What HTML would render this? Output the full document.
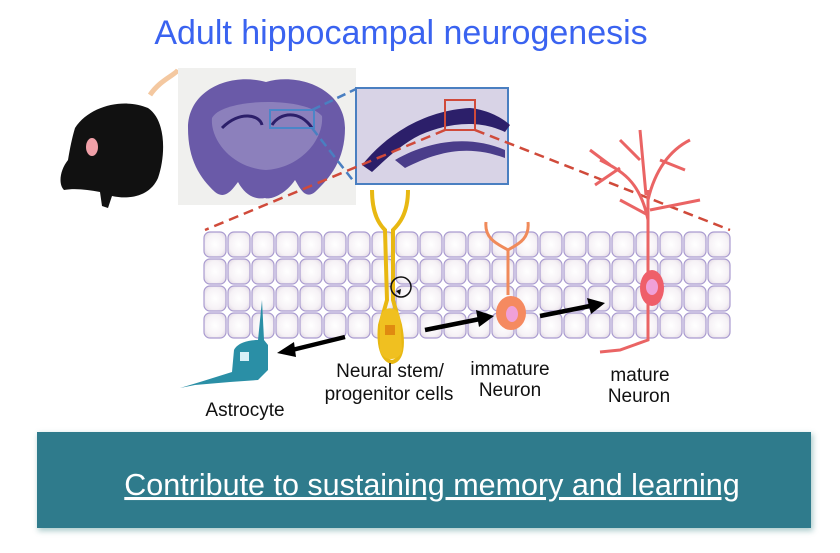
<!DOCTYPE html>
<html><head><meta charset="utf-8"><style>
body{margin:0;width:840px;height:548px;background:#fff;overflow:hidden;font-family:"Liberation Sans",sans-serif}
</style></head><body>
<svg width="840" height="548" viewBox="0 0 840 548" xmlns="http://www.w3.org/2000/svg">
<defs>
<radialGradient id="cg" cx="50%" cy="50%" r="60%"><stop offset="0" stop-color="#fff"/><stop offset="0.7" stop-color="#f6f2f6"/><stop offset="1" stop-color="#e4dbe6"/></radialGradient>
<pattern id="cells" x="203" y="231" width="24" height="27" patternUnits="userSpaceOnUse">
<rect x="1" y="1" width="22" height="25" rx="6" fill="url(#cg)" stroke="#a99bd0" stroke-width="1.2"/>
</pattern>
<filter id="sh" x="-5%" y="-10%" width="110%" height="130%"><feGaussianBlur stdDeviation="3"/></filter>
</defs>
<text x="401" y="44" text-anchor="middle" font-size="34" fill="#3a63f0">Adult hippocampal neurogenesis</text>
<!-- mouse -->
<path d="M150 95 C160 80 175 75 178 70" stroke="#f4c8a0" stroke-width="5" fill="none"/>
<path d="M75 128 C90 105 125 98 148 108 C166 120 166 155 158 178 C150 196 130 200 112 196 L108 208 L102 206 L100 192 C88 190 76 188 64 190 C58 184 60 170 68 160 C70 148 72 138 75 128Z" fill="#111"/>
<ellipse cx="92" cy="147" rx="6" ry="9" fill="#f0a0a8"/>
<!-- brain -->
<rect x="178" y="68" width="178" height="137" fill="#f0f0ee"/>
<path d="M188 128 C188 90 230 72 266 82 C300 72 345 90 345 128 C345 160 330 178 315 192 C305 200 300 188 295 180 C285 195 270 200 265 198 C255 200 245 195 238 182 C232 190 225 200 215 192 C200 178 188 160 188 128Z" fill="#6a5aa8"/>
<path d="M212 118 C222 98 305 96 322 116 C324 140 300 168 266 170 C232 168 210 140 212 118Z" fill="#8c80bc"/>
<path d="M222 128 C240 110 260 115 262 125 M272 125 C280 112 300 110 312 128" stroke="#2c1f6a" stroke-width="3" fill="none"/>
<rect x="270" y="110" width="44" height="18" fill="none" stroke="#4a86c8" stroke-width="2"/>
<!-- inset -->
<rect x="356" y="88" width="152" height="96" fill="#d8d3e6" stroke="#4a7fc1" stroke-width="2"/>
<path d="M362 165 C390 130 430 110 470 108 C490 110 505 120 510 125 L505 132 C480 120 450 122 420 135 C400 145 385 160 372 172Z" fill="#2c1f6a"/>
<path d="M395 160 C430 140 470 135 505 150 L505 158 C470 145 440 150 405 168Z" fill="#4a3d8a"/>
<rect x="445" y="100" width="30" height="30" fill="none" stroke="#d04a3a" stroke-width="2"/>
<line x1="312" y1="110" x2="356" y2="89" stroke="#4a7fc1" stroke-width="2.5" stroke-dasharray="9,5"/>
<line x1="312" y1="128" x2="355" y2="183" stroke="#4a7fc1" stroke-width="2.5" stroke-dasharray="9,5"/>
<line x1="445" y1="130" x2="205" y2="230" stroke="#d04a3a" stroke-width="2.5" stroke-dasharray="10,6"/>
<line x1="475" y1="130" x2="730" y2="230" stroke="#d04a3a" stroke-width="2.5" stroke-dasharray="10,6"/>
<!-- cell layer -->
<rect x="203" y="231" width="528" height="108" fill="url(#cells)"/>
<!-- stem cell -->
<path d="M372 190 C372 215 380 225 385 230 L387 300 L380 325 C378 345 382 360 392 362 C402 360 404 345 400 325 L393 300 L393 230 C398 225 408 215 408 190" stroke="#e8b812" stroke-width="4" fill="none"/>
<path d="M380 318 C382 305 398 305 400 318 L402 350 C400 362 382 362 380 350Z" fill="#f0c020"/>
<rect x="385" y="325" width="10" height="10" fill="#e08a10"/>
<circle cx="401" cy="287" r="10" fill="none" stroke="#111" stroke-width="1.5"/>
<path d="M396 291 l4 4 l1 -6z" fill="#111"/>
<!-- immature -->
<path d="M486 222 C484 240 500 245 508 250 C516 245 530 240 528 222" stroke="#f08a5a" stroke-width="3" fill="none"/>
<line x1="508" y1="250" x2="508" y2="295" stroke="#f08a5a" stroke-width="3"/>
<ellipse cx="511" cy="313" rx="15" ry="17" fill="#f58a60"/>
<ellipse cx="512" cy="314" rx="6" ry="8" fill="#f0a0d8"/>
<!-- mature -->
<g stroke="#ea6464" stroke-width="3" fill="none">
<path d="M648 190 L648 340 L620 350 L600 352"/>
<path d="M648 220 C640 180 620 170 600 160"/><path d="M648 200 C655 170 670 150 690 140"/>
<path d="M646 195 L640 130"/><path d="M620 168 L595 185"/><path d="M640 160 L620 140"/><path d="M660 160 L685 170"/>
<path d="M648 215 L620 200"/><path d="M650 210 L700 200"/><path d="M610 165 L590 150"/>
</g>
<ellipse cx="652" cy="288" rx="12" ry="18" fill="#ef5f6a"/>
<ellipse cx="652" cy="287" rx="6" ry="8" fill="#f0a0d8"/>
<!-- astrocyte -->
<path d="M262 300 L264 340 L268 345 L268 370 L258 380 L230 382 L195 385 L180 388 L200 382 L232 372 L234 350 C238 342 250 340 258 340Z" fill="#2a8fa6"/>
<rect x="240" y="352" width="9" height="9" fill="#d8f0f8"/>
<!-- arrows -->
<g stroke="#000" stroke-width="4.5"><line x1="345" y1="337" x2="292" y2="350"/><line x1="425" y1="330" x2="480" y2="319"/><line x1="540" y1="316" x2="590" y2="306"/></g>
<path d="M277 353 L294 342 L296 357Z M494 316 L476 310 L479 327Z M605 303 L587 298 L591 314Z" fill="#000"/>
<!-- labels -->
<g font-size="19" fill="#111" text-anchor="middle">
<text x="390" y="377">Neural stem/</text><text x="389" y="400">progenitor cells</text>
<text x="510" y="375">immature</text><text x="510" y="396">Neuron</text>
<text x="640" y="381">mature</text><text x="639" y="402">Neuron</text>
<text x="245" y="416">Astrocyte</text>
</g>
<!-- banner -->
<rect x="38" y="434" width="775" height="97" fill="#7aa" opacity="0.6" filter="url(#sh)"/>
<rect x="37" y="432" width="774" height="96" fill="#2f7b8c"/>
<text x="432" y="495" text-anchor="middle" font-size="30.5" fill="#fff" text-decoration="underline">Contribute to sustaining memory and learning</text>
</svg>
</body></html>
